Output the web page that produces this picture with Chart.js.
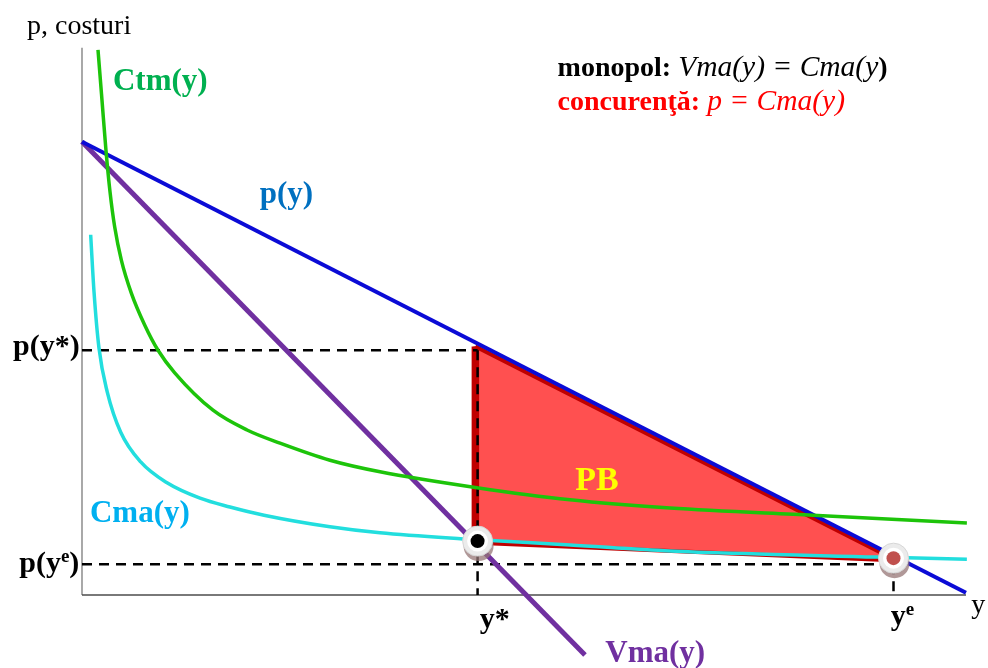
<!DOCTYPE html>
<html>
<head>
<meta charset="utf-8">
<script src="https://cdn.jsdelivr.net/npm/chart.js@4.4.1/dist/chart.umd.min.js"></script>
<style>
  html, body { margin: 0; padding: 0; background: #fff; }
  #wrap { width: 988px; height: 668px; }
</style>
</head>
<body>
<div id="wrap"><canvas id="chart" width="988" height="668"></canvas></div>
<script>
// quantity y on the horizontal axis, price / costs on the vertical one
const demandQ = [0, 100];
const demandP = [82.4, 0.4];
const vmaQ = [0, 56.9];
const vmaP = [82.4, -10.9];
const ctmQ = [1.81, 2.26, 2.71, 3.17, 3.70, 4.45, 5.58, 7.09, 8.60, 10.49, 14.82, 18.67, 22.4, 28.05, 33.71, 44.68, 55.2, 66.52, 82.69, 100.1];
const ctmP = [99.1, 90.0, 80.9, 73.3, 66.9, 60.9, 54.9, 49.1, 44.5, 40.4, 33.6, 30.0, 27.6, 24.5, 22.4, 19.5, 17.3, 15.8, 14.5, 13.1];
const cmaQ = [0.98, 1.36, 1.92, 2.86, 4.38, 6.64, 9.62, 13.35, 16.74, 20.59, 28.05, 33.71, 43.1, 55.2, 66.52, 89.93, 100.1];
const cmaP = [65.5, 55.1, 44.9, 36.9, 29.6, 24.2, 20.4, 17.6, 16.0, 14.5, 12.4, 11.3, 10.2, 9.1, 8.0, 6.9, 6.5];
// PB area (closed)
const pbQ = [44.5, 90.5, 90.2, 44.5, 44.5];
const pbP = [45.2, 7.6, 6.4, 9.5, 45.2];
// equilibria: y* (monopol) and y^e (concurenta)
const eqQ = [44.75, 91.8];
const eqP = [9.8, 6.7];
const eqPrice = [44.5, 5.6];
const xTickLabels = ['y*', 'y^e'];
const yTickLabels = ['p(y*)', 'p(y^e)'];
const axisTop = 99.5;
const axisRight = 100;

const serif = '"Liberation Serif", "Times New Roman", serif';

function pts(xs, ys) {
    return xs.map((x, i) => ({ x: x, y: ys[i] }));
}

function curve(data, color, width, order, extra) {
    return Object.assign({
        data: data,
        borderColor: color,
        borderWidth: width,
        pointRadius: 0,
        fill: false,
        tension: 0,
        order: order
    }, extra || {});
}

const dash = { borderDash: [10, 7], borderCapStyle: 'butt' };
const smooth = { cubicInterpolationMode: 'monotone' };

const datasets = [
    curve(pts(eqQ, eqP), 'rgba(0,0,0,0)', 0, 0, { showLine: false, pointRadius: 7, pointBackgroundColor: ['#000000', '#c0504d'], pointBorderWidth: 0 }),
    curve(pts(eqQ, eqP), 'rgba(0,0,0,0)', 0, 1, { showLine: false, pointRadius: 10.5, pointBackgroundColor: '#ffffff', pointBorderWidth: 0 }),
    curve(pts(eqQ, eqP), 'rgba(0,0,0,0)', 0, 2, { label: 'eqOuter', showLine: false, pointRadius: 15, pointBackgroundColor: '#ebebeb', pointBorderColor: '#d6d6d6', pointBorderWidth: 1 }),
    curve(pts(ctmQ, ctmP), '#1dc40a', 3.5, 3, smooth),
    curve(pts(cmaQ, cmaP), '#22dede', 3.5, 4, smooth),
    curve(pts(demandQ, demandP), '#0b0bd6', 4, 5),
    curve(pts(vmaQ, vmaP), '#7030a0', 5, 6),
    // dashed guides
    curve([{ x: 0, y: eqPrice[0] }, { x: eqQ[0], y: eqPrice[0] }], '#000', 2.5, 7, dash),
    curve([{ x: eqQ[0], y: eqPrice[0] }, { x: eqQ[0], y: 0 }], '#000', 2.5, 7, dash),
    curve([{ x: 0, y: eqPrice[1] }, { x: 89.7, y: eqPrice[1] }], '#000', 2.5, 7, dash),
    curve([{ x: eqQ[1], y: eqPrice[1] }, { x: eqQ[1], y: 0 }], '#000', 2.5, 7, dash),
    // PB
    curve([{ x: pbQ[0], y: pbP[0] }, { x: pbQ[3], y: pbP[3] }], '#c00000', 7.5, 8),
    curve(pts(pbQ, pbP), '#c00000', 4, 9, { fill: 'shape', backgroundColor: '#ff5050', borderJoinStyle: 'round' })
];

const notes = [
    { x: -6.22, y: 102.0, parts: [['p, costuri', '28px', '#000']] },
    { x: 3.5, y: 91.8, parts: [['Ctm(y)', 'bold 31px', '#00b050']] },
    { x: 20.1, y: 71.3, parts: [['p(y)', 'bold 31px', '#0070c0']] },
    { x: 0.9, y: 13.3, parts: [['Cma(y)', 'bold 31px', '#00b0f0']] },
    { x: 59.2, y: -12.2, parts: [['Vma(y)', 'bold 31px', '#7030a0']] },
    { x: 55.8, y: 19.1, parts: [['PB', 'bold 34px', '#ffff00']] },
    { x: 53.8, y: 94.4, parts: [['monopol: ', 'bold 28px', '#000'], ['Vma(y) = Cma(y', 'italic 29.5px', '#000'], [')', 'bold 28px', '#000']] },
    { x: 53.8, y: 88.2, parts: [['concurenţă: ', 'bold 28px', '#ff0000'], ['p = Cma(y)', 'italic 29.5px', '#ff0000']] },
    { x: 100.6, y: -3.3, parts: [['y', '28px', '#000']] }
];

// "p(y^e)" -> "p(y" + raised "e" + ")"
function tickParts(label, size) {
    const big = 'bold ' + size + 'px';
    const m = label.match(/^(.*)\^(\w)(\)?)$/);
    if (!m) return [[label, big, '#000']];
    const out = [[m[1], big, '#000'], [m[2], 'bold 19px', '#000', 10]];
    if (m[3]) out.push([m[3], big, '#000']);
    return out;
}

notes.push({ x: eqQ[0] + 0.25, y: -6.0, parts: tickParts(xTickLabels[0], 30) });
notes.push({ x: eqQ[1] - 0.3, y: -5.45, parts: tickParts(xTickLabels[1], 30) });
notes.push({ x: -0.25, y: 43.6, align: 'right', parts: tickParts(yTickLabels[0], 30) });
notes.push({ x: -0.3, y: 4.2, align: 'right', parts: tickParts(yTickLabels[1], 30) });

function drawParts(ctx, parts, x, y, align) {
    ctx.textBaseline = 'alphabetic';
    ctx.textAlign = 'left';
    let total = 0;
    parts.forEach(p => {
        ctx.font = p[1] + ' ' + serif;
        total += ctx.measureText(p[0]).width;
    });
    let cx = align === 'right' ? x - total : x;
    parts.forEach(p => {
        ctx.font = p[1] + ' ' + serif;
        ctx.fillStyle = p[2];
        ctx.fillText(p[0], cx, y - (p[3] || 0));
        cx += ctx.measureText(p[0]).width;
    });
}

const axesPlugin = {
    id: 'axesPlugin',
    beforeDatasetsDraw(chart) {
        const { ctx, scales: { x, y } } = chart;
        const x0 = x.getPixelForValue(0), y0 = y.getPixelForValue(0);
        ctx.save();
        ctx.lineWidth = 1.5;
        ctx.strokeStyle = '#8c8c8c';
        ctx.beginPath();
        ctx.moveTo(x0, y0);
        ctx.lineTo(x0, y.getPixelForValue(axisTop));
        ctx.stroke();
        ctx.strokeStyle = '#4d4d4d';
        ctx.beginPath();
        ctx.moveTo(x0, y0);
        ctx.lineTo(x.getPixelForValue(axisRight), y0);
        ctx.stroke();
        ctx.restore();
    }
};

const shadowPlugin = {
    id: 'shadowPlugin',
    beforeDatasetDraw(chart, args) {
        if (chart.data.datasets[args.index].label !== 'eqOuter') return;
        const ctx = chart.ctx;
        ctx.save();
        ctx.fillStyle = 'rgba(150,118,118,0.75)';
        args.meta.data.forEach(pt => {
            ctx.beginPath();
            ctx.arc(pt.x + 1, pt.y + 5, 15, 0, Math.PI * 2);
            ctx.fill();
        });
        ctx.restore();
    }
};

const textPlugin = {
    id: 'textPlugin',
    afterDatasetsDraw(chart) {
        const { ctx, scales: { x, y } } = chart;
        ctx.save();
        notes.forEach(n => drawParts(ctx, n.parts, x.getPixelForValue(n.x), y.getPixelForValue(n.y), n.align));
        ctx.restore();
    }
};

new Chart(document.getElementById('chart'), {
    type: 'line',
    data: { datasets: datasets },
    options: {
        responsive: false,
        animation: false,
        devicePixelRatio: 1,
        layout: { padding: 0, autoPadding: false },
        scales: {
            x: { type: 'linear', min: -9.276, max: 102.49, display: false },
            y: { type: 'linear', min: -13.27, max: 108.18, display: false }
        },
        plugins: { legend: { display: false }, tooltip: { enabled: false } }
    },
    plugins: [axesPlugin, shadowPlugin, textPlugin]
});
</script>
</body>
</html>
